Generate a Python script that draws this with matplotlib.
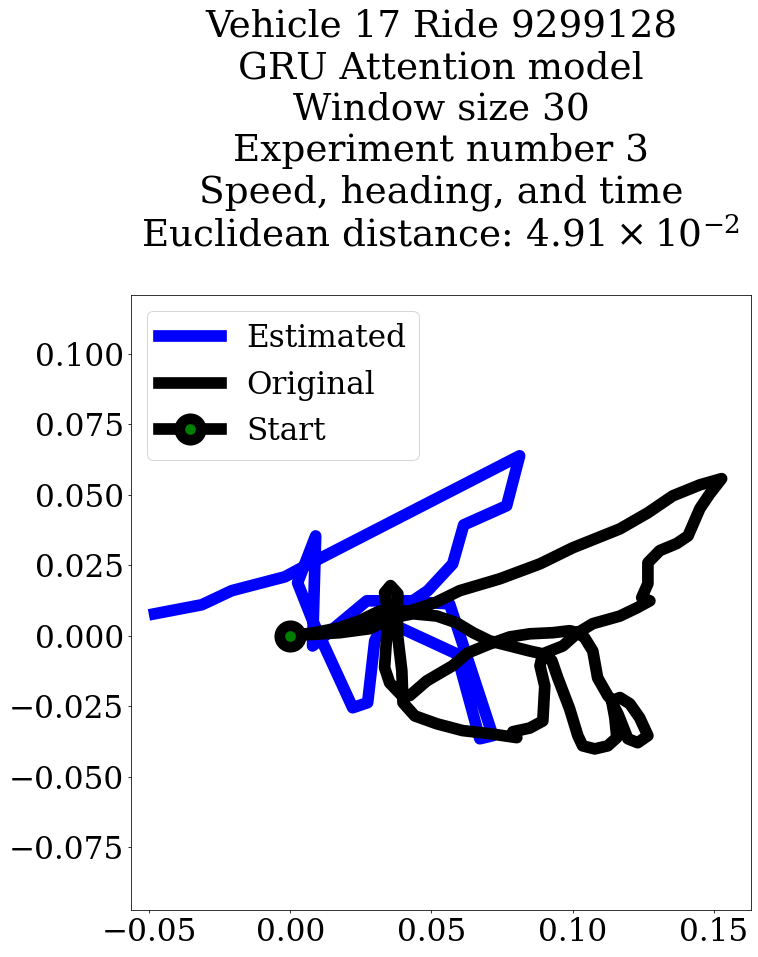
import matplotlib
matplotlib.use('Agg')
import matplotlib.pyplot as plt

est_x = [-0.0480, -0.0313, -0.0207, -0.0019, 0.0033, 0.0812, 0.0766, 0.0614, 0.0575, 0.0487,
         0.0434, 0.0271, 0.0079, 0.0090, 0.0026, 0.0079, 0.0221, 0.0274, 0.0299, 0.0334,
         0.0388, 0.0589, 0.0671, 0.0717, 0.0564, 0.0388, 0.0191, 0.0]
est_y = [0.0078, 0.0110, 0.0160, 0.0209, 0.0237, 0.0638, 0.0461, 0.0393, 0.0255, 0.0160,
         0.0124, 0.0124, -0.0036, 0.0354, 0.0188, 0.0054, -0.0255, -0.0237, -0.0018, 0.0054,
         0.0029, -0.0064, -0.0365, -0.0354, 0.0113, 0.0124, 0.0020, 0.0]

orig_x = [0.0, 0.0086, 0.0176, 0.0246, 0.0317, 0.0423, 0.0512, 0.0600, 0.0742, 0.0884,
          0.1000, 0.1167, 0.1266, 0.1354, 0.1450, 0.1527, 0.1485, 0.1450, 0.1408, 0.1368,
          0.1308, 0.1266, 0.1266, 0.1244, 0.1273, 0.1227, 0.1167, 0.1071, 0.1018, 0.1042,
          0.1071, 0.1088, 0.1124, 0.1139, 0.1167, 0.1202, 0.1237, 0.1266, 0.1230, 0.1195,
          0.1160, 0.1139, 0.1149, 0.1156, 0.1124, 0.1078, 0.1035, 0.1018, 0.0989, 0.0947,
          0.0926, 0.0894, 0.0884, 0.0901, 0.0894, 0.0848, 0.0788, 0.0802, 0.0706, 0.0610,
          0.0519, 0.0441, 0.0399, 0.0395, 0.0381, 0.0378, 0.0381, 0.0355, 0.0334, 0.0345,
          0.0341, 0.0334, 0.0352, 0.0395, 0.0423, 0.0483, 0.0575, 0.0628, 0.0706, 0.0777,
          0.0848, 0.0930, 0.0989, 0.1018, 0.0965, 0.0894, 0.0848, 0.0706, 0.0647, 0.0589,
          0.0519, 0.0434, 0.0362, 0.0281, 0.0176, 0.0]
orig_y = [0.0, 0.0011, 0.0029, 0.0054, 0.0088, 0.0088, 0.0117, 0.0160, 0.0202, 0.0255,
          0.0312, 0.0379, 0.0436, 0.0496, 0.0535, 0.0557, 0.0503, 0.0451, 0.0354, 0.0327,
          0.0302, 0.0259, 0.0185, 0.0135, 0.0124, 0.0099, 0.0070, 0.0043, 0.0011, -0.0007,
          -0.0054, -0.0149, -0.0212, -0.0230, -0.0219, -0.0241, -0.0291, -0.0354, -0.0379, -0.0365,
          -0.0277, -0.0237, -0.0291, -0.0361, -0.0390, -0.0401, -0.0390, -0.0354, -0.0259, -0.0149,
          -0.0088, -0.0064, -0.0106, -0.0178, -0.0302, -0.0327, -0.0340, -0.0361, -0.0347, -0.0336,
          -0.0312, -0.0284, -0.0237, -0.0124, -0.0007, 0.0078, 0.0149, 0.0178, 0.0153, 0.0088,
          -0.0007, -0.0113, -0.0167, -0.0212, -0.0212, -0.0160, -0.0106, -0.0061, -0.0029, -0.0004,
          0.0007, 0.0011, 0.0018, 0.0011, -0.0036, -0.0064, -0.0054, -0.0018, 0.0011, 0.0046,
          0.0070, 0.0078, 0.0064, 0.0025, 0.0011, 0.0]

title = ('Vehicle 17 Ride 9299128\nGRU Attention model\nWindow size 30\n'
         'Experiment number 3\nSpeed, heading, and time\n'
         'Euclidean distance: $4.91 \\times 10^{-2}$')

plt.rcParams['font.family'] = 'DejaVu Serif'
plt.rcParams['mathtext.fontset'] = 'dejavuserif'

# the look of the original fits a 70 dpi figure with 32 pt text
fig = plt.figure(figsize=(758.01 / 70, 957.01 / 70), dpi=70)
ax = fig.add_axes([131 / 758, 1 - 910 / 957, 620 / 758, 615 / 957])

ax.plot(est_x, est_y, color='blue', lw=12, label='Estimated')
ax.plot(orig_x, orig_y, color='black', lw=12, label='Original')
ax.plot(0, 0, color='black', lw=12, marker='o', mfc='green', mec='black',
        ms=22, mew=11, label='Start')

ax.set_xlim(-0.05637, 0.1631)
ax.set_ylim(-0.0972, 0.1208)
ax.set_xticks([-0.05, 0.0, 0.05, 0.10, 0.15])
ax.set_yticks([-0.075, -0.05, -0.025, 0, 0.025, 0.05, 0.075, 0.1])
ax.tick_params(labelsize=32)
ax.legend(loc='upper left', fontsize=32)

fig.text(441 / 758, 1 - 254 / 957, title, ha='center', va='bottom', fontsize=38.5, linespacing=1.2)

fig.savefig('out.png', dpi=70)
